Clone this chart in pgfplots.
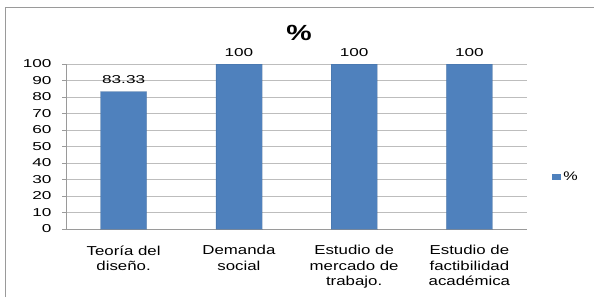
\documentclass[border=0pt]{standalone}
\usepackage{fontspec}
\setmainfont[FakeStretch=1.3]{Liberation Sans}
\newfontfamily\numfont[FakeStretch=1.5]{Liberation Sans}
\usepackage{pgfplots}
\pgfplotsset{compat=1.18}
\definecolor{barblue}{HTML}{4F81BD}
\definecolor{gridgray}{HTML}{BDBDBD}
\definecolor{axgray}{HTML}{9A9A9A}
\begin{document}
\begin{tikzpicture}[x=1bp,y=1bp]
\useasboundingbox (0,0) rectangle (594,297);
\draw[axgray, line width=1bp] (5,0) -- (5,289) -- (594,289);
\node[font=\bfseries\fontsize{22}{26}\selectfont] at (299,264) {\%};
\begin{axis}[
  at={(66bp,68bp)}, anchor=south west, scale only axis,
  width=461bp, height=165bp,
  /pgf/number format/assume math mode=true,
  font=\fontsize{13}{15.5}\selectfont,
  yticklabel style={font=\numfont\fontsize{11.5}{14}\selectfont, xshift=-7bp},
  ymin=0, ymax=100, ytick={0,10,...,100},
  ymajorgrids, grid style={gridgray, line width=0.8bp},
  xmin=-0.5, xmax=3.5,
  xtick={0,1,2,3},
  xticklabels={Teoría del\\diseño., Demanda\\social, Estudio de\\mercado de\\trabajo., Estudio de\\factibilidad\\académica},
  xticklabel style={align=center, yshift=-9bp},
  x tick style={draw=none},
  extra x ticks={-0.5,0.5,1.5,2.5,3.5},
  extra x tick labels={},
  extra x tick style={major tick length=5bp, tick style={draw=axgray}, grid=none},
  tick align=outside,
  major tick length=4bp,
  y tick style={axgray},
  axis x line*=bottom, axis y line*=left,
  axis line style={draw=axgray, -},
  ybar, bar width=46bp,
  nodes near coords,
  every node near coord/.append style={font=\numfont\fontsize{11.5}{14}\selectfont, yshift=4bp},
  legend style={at={(1.1139,0.315)}, anchor=east, draw=none, fill=none, font=\fontsize{12.5}{14}\selectfont,
    inner sep=0pt, nodes={inner xsep=1.5bp}},
]
\addplot[fill=barblue, draw=barblue!80!black, draw opacity=0.3,
  legend image code/.code={}] coordinates {(0,83.33) (1,100) (2,100) (3,100)};
\addlegendentry{\textcolor{barblue}{\rule[0.5bp]{9bp}{6bp}}\hspace{2bp}\%}
\end{axis}
\end{tikzpicture}
\end{document}
